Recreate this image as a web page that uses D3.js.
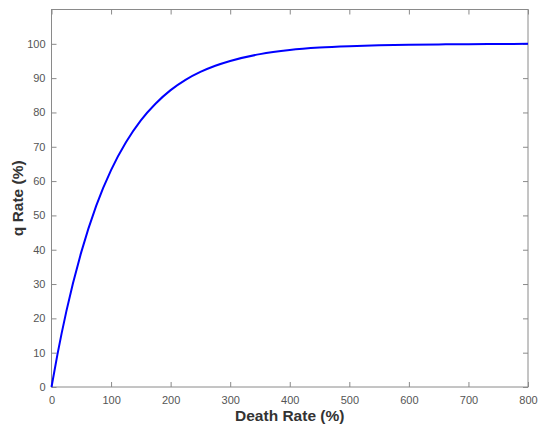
<!DOCTYPE html>
<html>
<head>
<meta charset="utf-8">
<script src="https://cdn.jsdelivr.net/npm/d3@7"></script>
<style>
  html, body { margin: 0; padding: 0; background: #fff; }
  svg { display: block; font-family: "Liberation Sans", Arial, Helvetica, sans-serif; }
</style>
</head>
<body>
<svg id="chart" width="540" height="428"></svg>
<script>
// Death rate (%) sampled along the curve
const deathRate = [0, 10, 25, 50, 75, 100, 125, 150, 175, 200, 225, 250, 275, 300, 350, 400, 450, 500, 550, 600, 650, 700, 750, 800];
// Corresponding q rate (%)
const qRate = [0, 9.5, 22.1, 39.3, 52.8, 63.2, 71.3, 77.7, 82.6, 86.5, 89.5, 91.8, 93.6, 95.0, 97.0, 98.2, 98.9, 99.3, 99.55, 99.72, 99.83, 99.9, 99.95, 100];
const xTicks = [0, 100, 200, 300, 400, 500, 600, 700, 800];
const yTicks = [0, 10, 20, 30, 40, 50, 60, 70, 80, 90, 100];

const margin = { left: 51.5, top: 9.5, right: 12, bottom: 41 };
const W = 540, H = 428;
const svg = d3.select("#chart");

const x = d3.scaleLinear().domain([0, 800]).range([margin.left, W - margin.right]);
const y = d3.scaleLinear().domain([0, 110]).range([H - margin.bottom, margin.top]);

const axisColor = "#8a8a8a";
const tickText = "#555";

// box frame
svg.append("rect")
  .attr("x", x(0)).attr("y", y(110))
  .attr("width", x(800) - x(0)).attr("height", y(0) - y(110))
  .attr("fill", "none").attr("stroke", axisColor).attr("stroke-width", 1);

function styleAxis(g) {
  g.select(".domain").remove();
  g.selectAll(".tick line").attr("stroke", axisColor);
  g.selectAll(".tick text").attr("fill", tickText).style("font-size", "11px");
}

// bottom axis (inward ticks)
svg.append("g")
  .attr("transform", `translate(0,${y(0)})`)
  .call(d3.axisBottom(x).tickValues(xTicks).tickSizeInner(-5).tickSizeOuter(0).tickPadding(9).tickFormat(d3.format("d")))
  .call(styleAxis);

// top mirrored ticks
svg.append("g")
  .attr("transform", `translate(0,${y(110)})`)
  .call(d3.axisTop(x).tickValues(xTicks).tickSizeInner(-5).tickSizeOuter(0).tickFormat(""))
  .call(styleAxis);

// left axis
svg.append("g")
  .attr("transform", `translate(${x(0)},0)`)
  .call(d3.axisLeft(y).tickValues(yTicks).tickSizeInner(-5).tickSizeOuter(0).tickPadding(6).tickFormat(d3.format("d")))
  .call(styleAxis);

// right mirrored ticks
svg.append("g")
  .attr("transform", `translate(${x(800)},0)`)
  .call(d3.axisRight(y).tickValues(yTicks).tickSizeInner(-5).tickSizeOuter(0).tickFormat(""))
  .call(styleAxis);

// curve
const pts = deathRate.map((d, i) => [d, qRate[i]]);
svg.append("path")
  .datum(pts)
  .attr("fill", "none")
  .attr("stroke", "#0000ff")
  .attr("stroke-width", 2)
  .attr("d", d3.line().x(d => x(d[0])).y(d => y(d[1])).curve(d3.curveMonotoneX));

// axis titles
svg.append("text")
  .attr("x", (x(0) + x(800)) / 2).attr("y", 421)
  .attr("text-anchor", "middle")
  .attr("fill", "#333").style("font-size", "15.5px").style("font-weight", "bold")
  .text("Death Rate (%)");

svg.append("text")
  .attr("transform", `translate(23,${(y(0) + y(110)) / 2}) rotate(-90)`)
  .attr("text-anchor", "middle")
  .attr("fill", "#333").style("font-size", "15.5px").style("font-weight", "bold")
  .text("q Rate (%)");
</script>
</body>
</html>
